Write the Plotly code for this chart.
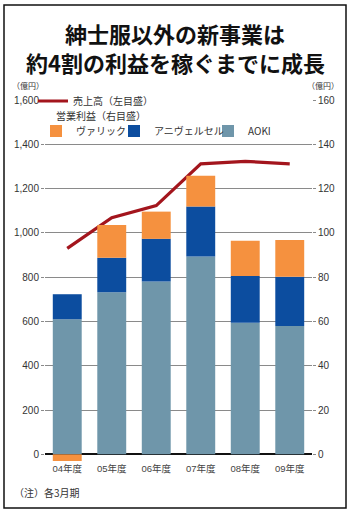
import plotly.graph_objects as go

years = ["04年度", "05年度", "06年度", "07年度", "08年度", "09年度"]
sales = [930, 1069, 1123, 1312, 1323, 1312]          # 売上高（億円, 左目盛）
aoki = [61.0, 73.2, 78.0, 89.3, 59.4, 58.0]           # 営業利益 AOKI（億円, 右目盛）
anniversaire = [11.3, 15.6, 19.3, 22.6, 21.1, 22.2]   # アニヴェルセル
valic = [-3.0, 14.8, 12.3, 13.9, 15.9, 16.6]          # ヴァリック
left_ticks = [0, 200, 400, 600, 800, 1000, 1200, 1400, 1600]
right_ticks = [0, 20, 40, 60, 80, 100, 120, 140, 160]

FONT = "Liberation Sans, Arial, Noto Sans CJK JP, sans-serif"
CJK = "Noto Sans CJK JP, Liberation Sans, sans-serif"

# plot-area geometry (px) used for paper-coordinate conversions
L, R, T, B = 45, 312, 100, 460.6
W, H = R - L, B - T
def px(x): return (x - L) / W
def py(y): return (B - y) / H

fig = go.Figure()
fig.add_trace(go.Bar(x=years, y=aoki, name="AOKI", yaxis="y2",
                     marker=dict(color="#6f96aa", line=dict(width=0)),
                     legend="legend4"))
fig.add_trace(go.Bar(x=years, y=anniversaire, name="アニヴェルセル", yaxis="y2",
                     marker=dict(color="#0c4d9f", line=dict(width=0)),
                     legend="legend3"))
fig.add_trace(go.Bar(x=years, y=valic, name="ヴァリック", yaxis="y2",
                     marker=dict(color="#f5913f", line=dict(width=0)),
                     legend="legend2"))
fig.add_trace(go.Scatter(x=years, y=sales, name="売上高（左目盛）", mode="lines",
                         line=dict(color="#a3151d", width=3.2),
                         legend="legend"))

def leg(x_origin, y_top):
    return dict(x=px(x_origin), y=py(y_top), xanchor="left", yanchor="top",
                bgcolor="rgba(0,0,0,0)", font=dict(family=CJK, size=10, color="#333"),
                itemwidth=30, borderwidth=0)

fig.update_layout(
    width=350, height=512,
    margin=dict(l=L, r=350 - R, t=T, b=512 - B),
    paper_bgcolor="white", plot_bgcolor="white",
    barmode="relative", bargap=0.35,
    font=dict(family=FONT, size=10, color="#333"),
    xaxis=dict(type="category", range=[-0.5, 5.5], showgrid=False, ticks="",
               showline=False, tickfont=dict(family=FONT, size=9.5, color="#444"),
               fixedrange=True),
    yaxis=dict(range=[-30, 1600], tickvals=left_ticks, tickformat=",",
               showgrid=True, gridcolor="#8a8a8a", gridwidth=1,
               zeroline=True, zerolinecolor="#111", zerolinewidth=1.5,
               ticks="outside", ticklen=3, tickcolor="#8a8a8a",
               tickfont=dict(family=FONT, size=10, color="#333")),
    yaxis2=dict(range=[-3, 160], tickvals=right_ticks, overlaying="y", side="right",
                showgrid=False, zeroline=False,
                ticks="outside", ticklen=3, tickcolor="#8a8a8a",
                tickfont=dict(family=FONT, size=10, color="#333")),
    legend=leg(33, 86.5),
    legend2=leg(36, 116.5),
    legend3=leg(114, 116.5),
    legend4=leg(208, 116.5),
    showlegend=True,
)

annotations = [
    dict(text="<b>紳士服以外の新事業は</b>", x=px(175), y=py(33),
         xanchor="center", yanchor="middle",
         font=dict(family=CJK, size=22, color="#111")),
    dict(text="<b>約4割の利益を稼ぐまでに成長</b>", x=px(175), y=py(62),
         xanchor="center", yanchor="middle",
         font=dict(family=CJK, size=22, color="#111")),
    dict(text="（億円）", x=px(10), y=py(86), xanchor="left", yanchor="middle",
         font=dict(family=CJK, size=8, color="#333")),
    dict(text="（億円）", x=px(305), y=py(86), xanchor="left", yanchor="middle",
         font=dict(family=CJK, size=8, color="#333")),
    dict(text="営業利益（右目盛）", x=px(54), y=py(115), xanchor="left", yanchor="middle",
         font=dict(family=CJK, size=10, color="#333")),
    dict(text="（注）各3月期", x=px(12), y=py(492), xanchor="left", yanchor="middle",
         font=dict(family=CJK, size=10, color="#333")),
]
for a in annotations:
    a.update(xref="paper", yref="paper", showarrow=False)
fig.update_layout(annotations=annotations)

fig.add_shape(type="rect", xref="paper", yref="paper",
              x0=px(4), x1=px(346), y0=py(507.5), y1=py(5),
              line=dict(color="#111", width=1.5), fillcolor="rgba(0,0,0,0)", layer="above")

fig.write_html("out.html")
